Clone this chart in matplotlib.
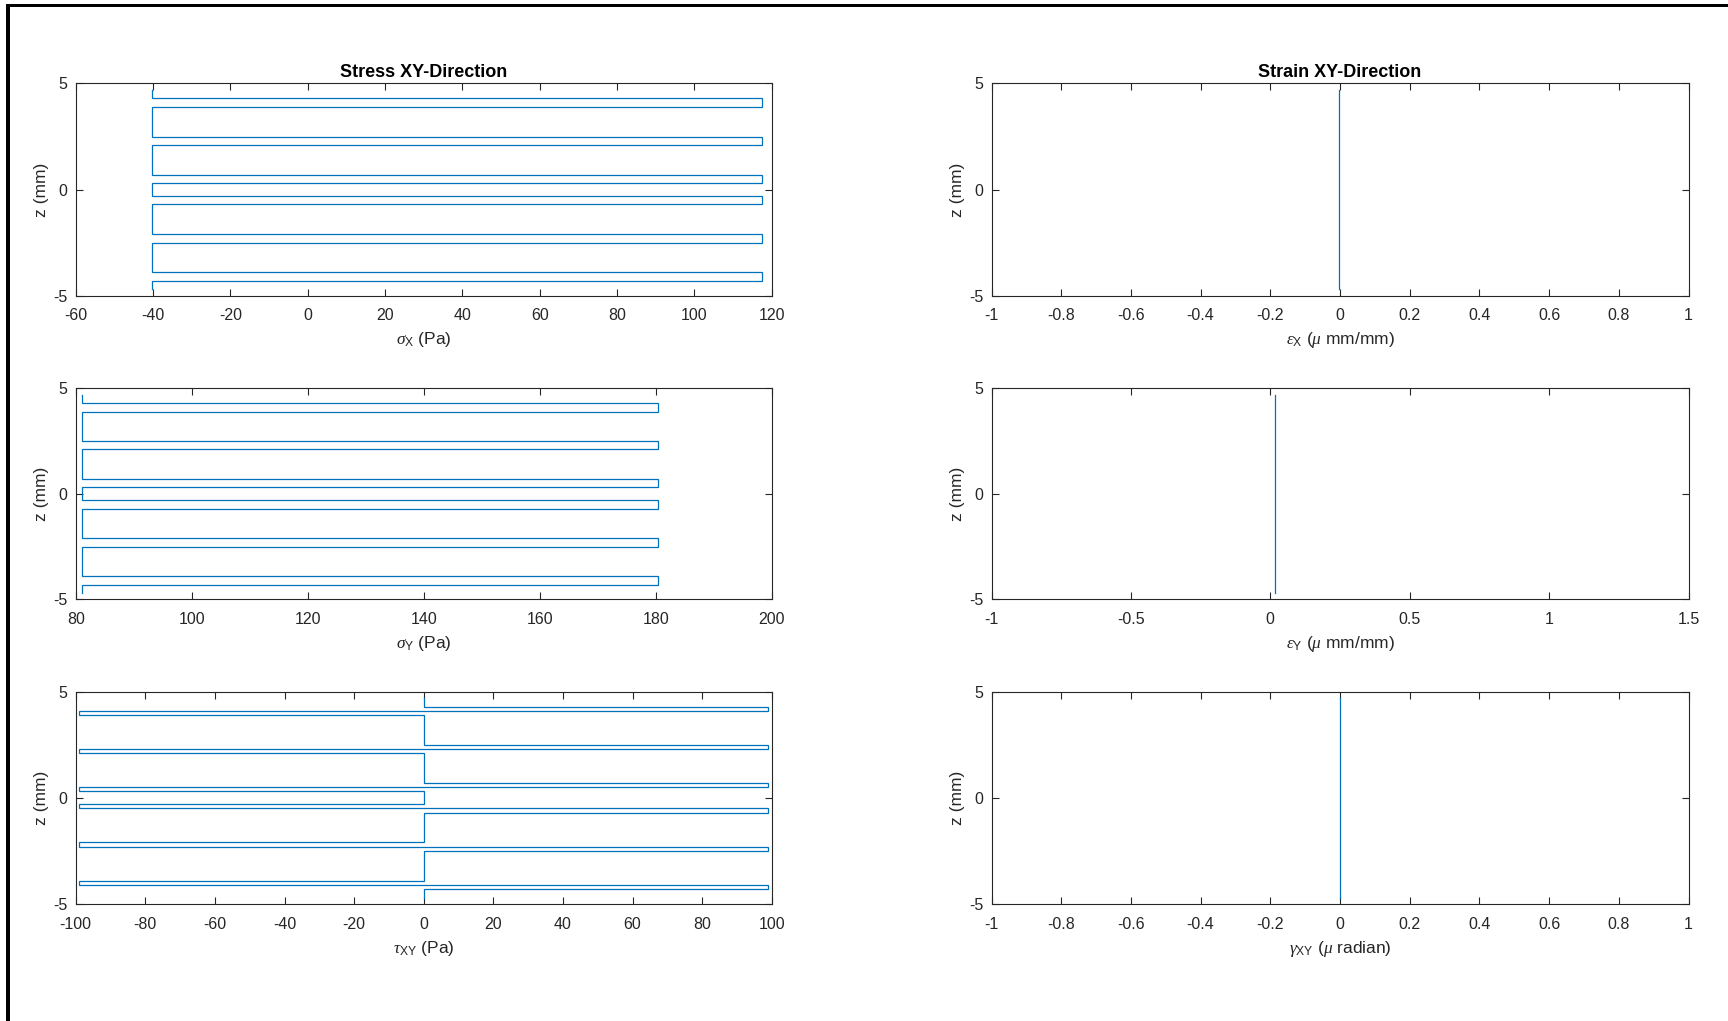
import numpy as np
import matplotlib
matplotlib.use("Agg")
import matplotlib.pyplot as plt
from matplotlib.patches import Rectangle

# ---- laminate through-thickness data ----
# ply interface positions (mm), top to bottom
z_interfaces = [4.7, 4.3, 4.1, 3.9, 2.5, 2.3, 2.1, 0.7, 0.5, 0.3,
                -0.3, -0.5, -0.7, -2.1, -2.3, -2.5, -3.9, -4.1, -4.3, -4.7]

# per-ply stresses (Pa)
sigma_x = [-40.3, 117.6, 117.6, -40.3, 117.6, 117.6, -40.3, 117.6, 117.6, -40.3,
           117.6, 117.6, -40.3, 117.6, 117.6, -40.3, 117.6, 117.6, -40.3]
sigma_y = [81.0, 180.4, 180.4, 81.0, 180.4, 180.4, 81.0, 180.4, 180.4, 81.0,
           180.4, 180.4, 81.0, 180.4, 180.4, 81.0, 180.4, 180.4, 81.0]
tau_xy = [0, 99, -99, 0, 99, -99, 0, 99, -99, 0,
          -99, 99, 0, -99, 99, 0, -99, 99, 0]

# per-ply strains (micro units)
eps_x = [-0.002] * 19
eps_y = [0.018] * 19
gamma_xy = [0.0] * 19

# axis ticks
z_ticks = [-5, 0, 5]
sx_ticks = [-60, -40, -20, 0, 20, 40, 60, 80, 100, 120]
sy_ticks = [80, 100, 120, 140, 160, 180, 200]
txy_ticks = [-100, -80, -60, -40, -20, 0, 20, 40, 60, 80, 100]
ex_ticks = [-1, -0.8, -0.6, -0.4, -0.2, 0, 0.2, 0.4, 0.6, 0.8, 1]
ex_labels = ["-1", "-0.8", "-0.6", "-0.4", "-0.2", "0", "0.2", "0.4", "0.6", "0.8", "1"]
ey_ticks = [-1, -0.5, 0, 0.5, 1, 1.5]
ey_labels = ["-1", "-0.5", "0", "0.5", "1", "1.5"]

plt.rcParams["font.family"] = ["Liberation Sans", "DejaVu Sans"]
plt.rcParams["mathtext.fontset"] = "custom"
plt.rcParams["mathtext.rm"] = "Liberation Sans"
plt.rcParams["mathtext.it"] = "Liberation Serif:italic"
plt.rcParams["mathtext.bf"] = "Liberation Sans:bold"
plt.rcParams["axes.unicode_minus"] = False

W, H = 1728, 1021
fig = plt.figure(figsize=(W / 100, H / 100), dpi=100)
fig.patch.set_facecolor("white")

AX_COLOR = "#262626"
LINE_COLOR = "#0072BD"


def px_rect(x0, y0, x1, y1):
    return [x0 / W, 1 - y1 / H, (x1 - x0) / W, (y1 - y0) / H]


col_x = [(75.7, 771.7), (991.5, 1688.5)]
row_y = [(83.5, 295.7), (388.3, 599.3), (691.7, 904.0)]


def step_path(values):
    xs = np.repeat(np.asarray(values, dtype=float), 2)
    zs = np.repeat(np.asarray(z_interfaces, dtype=float), 2)[1:-1]
    return xs, zs


def style(ax, xlim, xticks, xlabels, xlabel):
    ax.set_xlim(xlim)
    ax.set_ylim(-5, 5)
    ax.set_xticks(xticks)
    ax.set_xticklabels(xlabels if xlabels is not None else [str(t) for t in xticks])
    ax.set_yticks(z_ticks)
    ax.set_yticklabels([str(t) for t in z_ticks])
    ax.tick_params(direction="in", length=5.2, width=0.8, colors=AX_COLOR,
                   labelsize=11.5, top=True, right=True, pad=6)
    ax.tick_params(axis="x", pad=9.2)
    for s in ax.spines.values():
        s.set_color(AX_COLOR)
        s.set_linewidth(0.8)
    ax.set_xlabel(xlabel, fontsize=12.5, color=AX_COLOR, labelpad=5)
    ax.set_ylabel("z (mm)", fontsize=12.5, color=AX_COLOR, labelpad=3)


panels = [
    (0, 0, sigma_x, (-60, 120), sx_ticks, None, r"$\sigma_{\mathrm{X}}$ (Pa)"),
    (0, 1, sigma_y, (80, 200), sy_ticks, None, r"$\sigma_{\mathrm{Y}}$ (Pa)"),
    (0, 2, tau_xy, (-100, 100), txy_ticks, None, r"$\tau_{\mathrm{XY}}$ (Pa)"),
    (1, 0, eps_x, (-1, 1), ex_ticks, ex_labels, r"$\epsilon_{\mathrm{X}}$ ($\mu$ mm/mm)"),
    (1, 1, eps_y, (-1, 1.5), ey_ticks, ey_labels, r"$\epsilon_{\mathrm{Y}}$ ($\mu$ mm/mm)"),
    (1, 2, gamma_xy, (-1, 1), ex_ticks, ex_labels, r"$\gamma_{\mathrm{XY}}$ ($\mu$ radian)"),
]

axes = {}
for col, row, vals, xlim, xt, xl, xlab in panels:
    (x0, x1), (y0, y1) = col_x[col], row_y[row]
    ax = fig.add_axes(px_rect(x0, y0, x1, y1))
    xs, zs = step_path(vals)
    ax.plot(xs, zs, color=LINE_COLOR, linewidth=0.9, solid_joinstyle="miter")
    style(ax, xlim, xt, xl, xlab)
    axes[(col, row)] = ax

axes[(0, 0)].set_title("Stress XY-Direction", fontsize=13, fontweight="bold",
                       color="black", pad=5)
axes[(1, 0)].set_title("Strain XY-Direction", fontsize=13, fontweight="bold",
                       color="black", pad=5)

# window frame along the top and left edges
fig.patches.append(Rectangle((6 / W, 1 - 7.5 / H), 1 - 6 / W, 3.5 / H,
                             transform=fig.transFigure, facecolor="black",
                             edgecolor="none"))
fig.patches.append(Rectangle((6 / W, 0), 3.5 / W, 1 - 4 / H,
                             transform=fig.transFigure, facecolor="black",
                             edgecolor="none"))

fig.savefig("out.png", dpi=100, facecolor="white")
